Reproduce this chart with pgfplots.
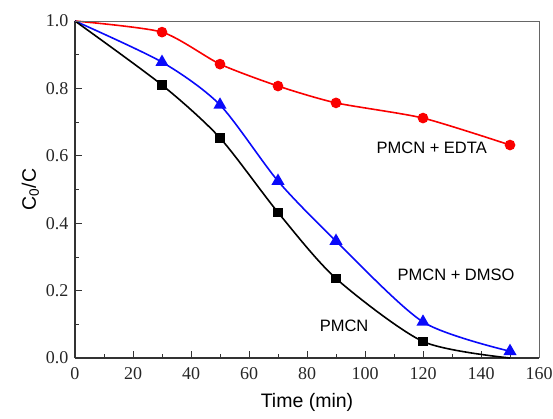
\documentclass[border=0pt]{standalone}
\usepackage{fontspec}
\setmainfont{Liberation Serif}
\newfontfamily\arial{Liberation Sans}
\usepackage{pgfplots}
\pgfplotsset{compat=1.18}
\definecolor{myred}{RGB}{250,0,0}
\definecolor{myblue}{RGB}{10,10,250}
\begin{document}
\begin{tikzpicture}
\path[use as bounding box] (-75pt,-60pt) rectangle (478pt,358pt);
\begin{axis}[
  at={(0,0)}, anchor=south west,
  scale only axis, width=464pt, height=337pt,
  xmin=0, xmax=160, ymin=0, ymax=1.0,
  axis x line*=bottom, axis y line*=left,
  axis line style={-, line width=1.1pt, black!80},
  xtick={0,20,...,160}, ytick={0,0.2,...,1.0},
  minor tick num=1,
  tick align=inside,
  major tick length=7pt, minor tick length=4pt,
  tick style={line width=0.8pt, black!80},
  /pgf/number format/assume math mode=true,
  /pgf/number format/.cd, fixed, fixed zerofill, precision=1, /pgfplots/.cd,
  tick label style={font=\rmfamily\fontsize{18}{18}\selectfont, text=black!85},
  xticklabel style={/pgf/number format/precision=0, /pgf/number format/fixed zerofill=false, yshift=-6pt},
  yticklabel style={xshift=-3pt},
  xlabel={\arial Time (min)}, ylabel={\arial C\textsubscript{0}/C},
  xlabel style={font=\fontsize{19.5}{20}\selectfont, yshift=-7pt},
  ylabel style={font=\fontsize{19.5}{20}\selectfont, yshift=0pt},
  clip=false,
]
% PMCN + EDTA
\addplot[myred, line width=1.6pt, smooth, tension=0.4, mark=*, mark size=4.5pt, mark indices={2,3,4,5,6,7}] coordinates {
(0,1.0) (30,0.967) (50,0.872) (70,0.807) (90,0.757) (120,0.712) (150,0.632)};
% PMCN + DMSO
\addplot[myblue, line width=1.6pt, smooth, tension=0.45, mark=triangle*, mark size=6pt, mark indices={2,3,4,5,6,7}] coordinates {
(0,1.0) (30,0.878) (50,0.751) (70,0.525) (90,0.347) (120,0.107) (150,0.020)};
% PMCN
\addplot[black, line width=1.6pt, smooth, tension=0.45, mark=square*, mark size=4pt, mark indices={2,3,4,5,6}] coordinates {
(0,1.0) (30,0.810) (50,0.653) (70,0.432) (90,0.236) (120,0.049) (150,0.0)};
\draw[black!60, line width=0.7pt] (rel axis cs:0,1) -- (rel axis cs:1,1) -- (rel axis cs:1,0);
\node[font=\arial\fontsize{16.5}{17}\selectfont] at (axis cs:123,0.623) {PMCN + EDTA};
\node[font=\arial\fontsize{16.5}{17}\selectfont] at (axis cs:131.4,0.246) {PMCN + DMSO};
\node[font=\arial\fontsize{16.5}{17}\selectfont] at (axis cs:92.8,0.095) {PMCN};
\end{axis}
\end{tikzpicture}
\end{document}
